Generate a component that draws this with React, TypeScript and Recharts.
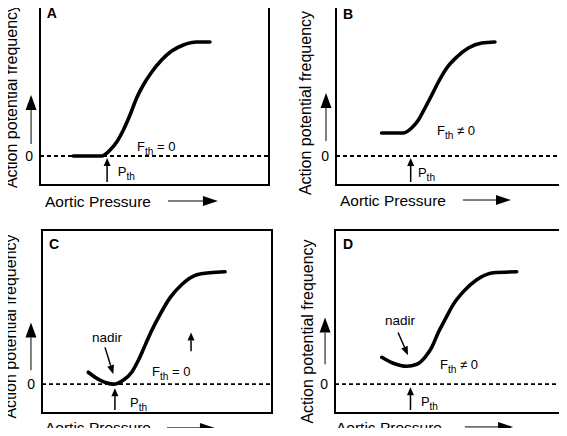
import React from "react";
import {
  LineChart,
  Line,
  XAxis,
  YAxis,
  ReferenceLine,
  ReferenceArea,
  ReferenceDot,
  Label,
} from "recharts";

// Four schematic baroreceptor curves. Pressure runs 0-100 across each box,
// frequency is in arbitrary units with 0 on the dashed line.
const FONT = '"Liberation Sans", Arial, Helvetica, sans-serif';
const X_DOMAIN: [number, number] = [0, 100];
const Y_DOMAIN: [number, number] = [-29, 155];
const Y_TICKS = [0];

const pressureA = [14.5, 26.9, 30.6, 33.5, 36.4, 39.3, 42.2, 45.1, 48.8, 53.1, 57.5, 62.6, 68.4, 74.2];
const freqA = [0, 0, 6, 14, 26, 41, 58, 71, 84, 96, 105, 111, 114, 114];

const pressureB = [20.1, 29.6, 33.3, 36.3, 39.2, 42.2, 45.1, 48.8, 53.2, 58.3, 64.2, 70.0];
const freqB = [23, 23, 28, 36, 48, 61, 74, 88, 99, 108, 113, 114];

const pressureC = [20.1, 25.2, 31.0, 35.3, 39.0, 41.9, 44.8, 47.7, 51.3, 55.7, 60.7, 67.3, 73.0, 79.6];
const freqC = [12, 4, 0, 4, 12, 24, 39, 54, 70, 87, 100, 110, 112, 113];

const pressureD = [20.7, 25.8, 31.7, 36.2, 39.8, 42.8, 45.7, 48.7, 52.3, 56.8, 62.7, 70.0, 80.4];
const freqD = [27, 21, 18, 20, 27, 37, 52, 65, 80, 93, 105, 112, 113];

const toRows = (p: number[], f: number[]) => p.map((x, i) => ({ p: x, f: f[i] }));

type Note = { x: number; y: number; main: string; sub?: string; rest?: string; size?: number; bold?: boolean };
type Arrow = { from: [number, number]; to: [number, number]; head: number; width: number; sw: number };

type Panel = {
  key: string;
  rows: { p: number; f: number }[];
  left: number;
  top: number;
  width: number;
  height: number;
  margin: { top: number; right: number; bottom: number; left: number };
  yAxisWidth: number;
  xAxisHeight: number;
  yLabelDx: number;
  yLabelDy: number;
  xLabelDx: number;
  xLabelDy: number;
  notes: Note[];
  arrows: Arrow[];
};

const pth = (x: number, y: number): Note => ({ x, y, main: "P", sub: "th" });
const fth = (x: number, y: number, rest: string): Note => ({ x, y, main: "F", sub: "th", rest });
const small = (x: number, y1: number, y2: number): Arrow => ({ from: [x, y1], to: [x, y2], head: 8, width: 7, sw: 1.5 });
const yArrow = (x: number, y1: number, y2: number): Arrow => ({ from: [x, y1], to: [x, y2], head: 15, width: 11, sw: 1 });
const xArrow = (x1: number, x2: number, y: number): Arrow => ({ from: [x1, y], to: [x2, y], head: 15, width: 10, sw: 1 });

const panels: Panel[] = [
  {
    key: "A",
    rows: toRows(pressureA, freqA),
    left: 0, top: 0, width: 283, height: 218,
    margin: { top: 1, right: 14, bottom: 0, left: 0 },
    yAxisWidth: 40, xAxisHeight: 33,
    yLabelDx: -29, yLabelDy: 3, xLabelDx: 5, xLabelDy: 16,
    notes: [
      { x: 2.9, y: 143, main: "A", size: 14, bold: true },
      fth(42.4, 9.5, " = 0"),
      pth(34, -15.5),
    ],
    arrows: [small(29.3, -26, -2), yArrow(-3.9, 12, 61), xArrow(55.9, 77.7, -45)],
  },
  {
    key: "B",
    rows: toRows(pressureB, freqB),
    left: 283, top: 0, width: 284, height: 218,
    margin: { top: 1, right: 4, bottom: 0, left: 0 },
    yAxisWidth: 53, xAxisHeight: 33,
    yLabelDx: -31, yLabelDy: 10, xLabelDx: 4, xLabelDy: 15,
    notes: [
      { x: 3.1, y: 142, main: "B", size: 14, bold: true },
      fth(44.5, 25.5, " \u2260 0"),
      pth(36.1, -16.5),
    ],
    arrows: [small(32.9, -26, -2), yArrow(-4.4, 15, 63), xArrow(55.9, 77.1, -44)],
  },
  {
    key: "C",
    rows: toRows(pressureC, freqC),
    left: 0, top: 218, width: 283, height: 218,
    margin: { top: 12, right: 11, bottom: 0, left: 0 },
    yAxisWidth: 42, xAxisHeight: 23,
    yLabelDx: -32, yLabelDy: 5, xLabelDx: 3, xLabelDy: 14,
    notes: [
      { x: 3.0, y: 141, main: "C", size: 14, bold: true },
      { x: 21.7, y: 47.5, main: "nadir", size: 13.5 },
      fth(47.8, 12.5, " = 0"),
      pth(38.3, -18.5),
    ],
    arrows: [
      small(31.7, -26, -4),
      small(64.8, 33, 52),
      { from: [27.4, 37], to: [31, 10], head: 9, width: 7, sw: 1.5 },
      yArrow(-4.8, 14, 62),
      xArrow(54.3, 75.2, -44),
    ],
  },
  {
    key: "D",
    rows: toRows(pressureD, freqD),
    left: 283, top: 218, width: 284, height: 218,
    margin: { top: 12, right: 6, bottom: 0, left: 0 },
    yAxisWidth: 52, xAxisHeight: 23,
    yLabelDx: -28, yLabelDy: 10, xLabelDx: 1, xLabelDy: 14,
    notes: [
      { x: 3.5, y: 141, main: "D", size: 14, bold: true },
      { x: 22.1, y: 64, main: "nadir", size: 13.5 },
      fth(46.5, 20, " \u2260 0"),
      pth(38, -17),
    ],
    arrows: [
      small(33.4, -26, -3),
      { from: [27.9, 52], to: [32.3, 29], head: 9, width: 7, sw: 1.5 },
      yArrow(-4.4, 20, 67),
      xArrow(57.5, 78.8, -43),
    ],
  },
];

function NoteText({ cx, cy, note }: { cx: number; cy: number; note: Note }) {
  const size = note.size ?? 13;
  const drop = size * 0.3;
  return (
    <text
      x={cx}
      y={cy + size * 0.36}
      fontFamily={FONT}
      fontSize={size}
      fontWeight={note.bold ? 700 : 400}
      fill="#000"
    >
      {note.main}
      {note.sub && (
        <tspan fontSize={size * 0.78} dy={drop}>
          {note.sub}
        </tspan>
      )}
      {note.rest && <tspan dy={-drop}>{note.rest}</tspan>}
    </text>
  );
}

const arrowShape = (a: Arrow) => (p: any) => {
  const { x1, y1, x2, y2 } = p;
  const dx = x2 - x1;
  const dy = y2 - y1;
  const len = Math.hypot(dx, dy) || 1;
  const ux = dx / len;
  const uy = dy / len;
  const bx = x2 - ux * a.head;
  const by = y2 - uy * a.head;
  const px = (-uy * a.width) / 2;
  const py = (ux * a.width) / 2;
  return (
    <g>
      <line x1={x1} y1={y1} x2={bx} y2={by} stroke="#000" strokeWidth={a.sw} />
      <polygon points={`${x2},${y2} ${bx + px},${by + py} ${bx - px},${by - py}`} fill="#000" />
    </g>
  );
};

function PanelChart({ s }: { s: Panel }) {
  return (
    <div style={{ position: "absolute", left: s.left, top: s.top }}>
      <LineChart width={s.width} height={s.height} data={s.rows} margin={s.margin}>
        <XAxis
          type="number"
          dataKey="p"
          domain={X_DOMAIN}
          tick={false}
          tickLine={false}
          axisLine={false}
          height={s.xAxisHeight}
        >
          <Label
            content={({ viewBox }: any) => (
              <text
                x={viewBox.x + s.xLabelDx}
                y={viewBox.y + s.xLabelDy + 5.6}
                fontFamily={FONT}
                fontSize={15.5}
                fill="#000"
              >
                Aortic Pressure
              </text>
            )}
          />
        </XAxis>
        <YAxis
          type="number"
          domain={Y_DOMAIN}
          ticks={Y_TICKS}
          tickLine={false}
          axisLine={false}
          tickMargin={1}
          width={s.yAxisWidth}
          tick={{ fontSize: 14, fill: "#000", fontFamily: FONT }}
        >
          <Label
            content={({ viewBox }: any) => {
              const cx = viewBox.x + viewBox.width + s.yLabelDx;
              const cy = viewBox.y + viewBox.height / 2 + s.yLabelDy;
              return (
                <text
                  x={cx}
                  y={cy + 5.8}
                  transform={`rotate(-90 ${cx} ${cy})`}
                  textAnchor="middle"
                  fontFamily={FONT}
                  fontSize={16}
                  fill="#000"
                >
                  Action potential frequency
                </text>
              );
            }}
          />
        </YAxis>
        <ReferenceArea
          x1={X_DOMAIN[0]}
          x2={X_DOMAIN[1]}
          y1={Y_DOMAIN[0]}
          y2={Y_DOMAIN[1]}
          fill="none"
          fillOpacity={0}
          stroke="#000"
          strokeWidth={2}
        />
        <ReferenceLine y={0} stroke="#000" strokeWidth={1.8} strokeDasharray="4 3" />
        <Line
          type="monotone"
          dataKey="f"
          stroke="#000"
          strokeWidth={3.6}
          strokeLinecap="round"
          dot={false}
          isAnimationActive={false}
        />
        {s.arrows.map((a, i) => (
          <ReferenceLine
            key={`a${i}`}
            segment={[
              { x: a.from[0], y: a.from[1] },
              { x: a.to[0], y: a.to[1] },
            ]}
            ifOverflow="visible"
            shape={arrowShape(a)}
          />
        ))}
        {s.notes.map((n, i) => (
          <ReferenceDot
            key={`n${i}`}
            x={n.x}
            y={n.y}
            r={1}
            ifOverflow="visible"
            shape={(p: any) => <NoteText cx={p.cx} cy={p.cy} note={n} />}
          />
        ))}
      </LineChart>
    </div>
  );
}

export default function App() {
  return (
    <div style={{ position: "relative", width: 567, height: 436, margin: -8, background: "#fff" }}>
      {panels.map((s) => (
        <PanelChart key={s.key} s={s} />
      ))}
    </div>
  );
}
